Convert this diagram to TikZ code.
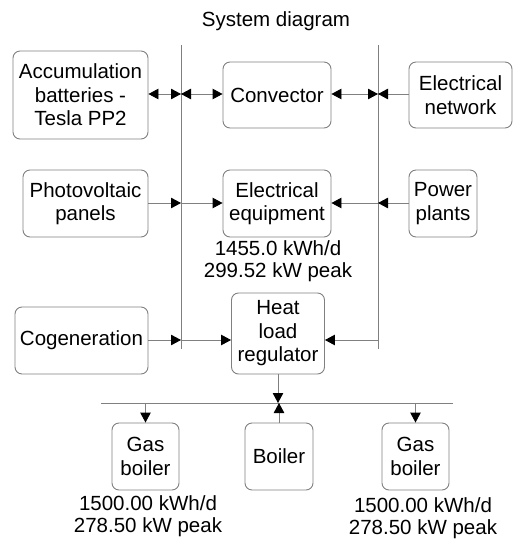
\documentclass[tikz,border=0pt]{standalone}
\usepackage{fontspec}
\setmainfont{Liberation Sans}
\usetikzlibrary{arrows.meta}
\definecolor{linegrey}{HTML}{808080}
\tikzset{
  box/.style={draw=linegrey, line width=0.9pt, rounded corners=7pt, align=center, inner sep=1pt,
    font=\fontsize{20.5}{23.5}\selectfont},
  lbl/.style={align=center, font=\fontsize{20.5}{21.5}\selectfont, inner sep=0pt},
  conn/.style={draw=linegrey, line width=0.9pt},
  tip/.style={-{Triangle[length=10pt,width=10.5pt,color=black]}},
  tips/.style={{Triangle[length=10pt,width=10.5pt,color=black]}-{Triangle[length=10pt,width=10.5pt,color=black]}},
}
\begin{document}
\begin{tikzpicture}[x=1pt,y=-1pt]
\useasboundingbox (0,0) rectangle (522,550);
\node[lbl] (title) at (276,21) {System diagram};
% buses
\coordinate (bLt) at (181,45); \coordinate (bLb) at (181,349);
\coordinate (bRt) at (378,45); \coordinate (bRb) at (378,349);
\draw[conn] (bLt) -- (bLb);
\draw[conn] (bRt) -- (bRb);
\coordinate (hbL) at (101,403); \coordinate (hbR) at (453,403);
\draw[conn] (hbL) -- (hbR);
% boxes
\node[box, minimum width=135pt, minimum height=88pt] (acc) at (80.5,95) {Accumulation\\batteries -\\Tesla PP2};
\node[box, minimum width=108pt, minimum height=66pt] (conv) at (277,95) {Convector};
\node[box, minimum width=103pt, minimum height=66pt] (enet) at (460.5,95) {Electrical\\network};
\node[box, minimum width=125pt, minimum height=67pt] (pv) at (85.5,203.5) {Photovoltaic\\panels};
\node[box, minimum width=108pt, minimum height=67pt] (ee) at (277,203.5) {Electrical\\equipment};
\node[box, minimum width=68pt, minimum height=67pt] (pp) at (443,203.5) {Power\\plants};
\node[box, minimum width=133pt, minimum height=67pt] (cog) at (81.5,340.5) {Cogeneration};
\node[box, minimum width=93pt, minimum height=81pt] (hlr) at (278,333.5) {Heat\\load\\regulator};
\node[box, minimum width=67pt, minimum height=67pt] (gb1) at (145.5,456.5) {Gas\\boiler};
\node[box, minimum width=68pt, minimum height=67pt] (boil) at (279,456.5) {Boiler};
\node[box, minimum width=67pt, minimum height=67pt] (gb2) at (415.5,456.5) {Gas\\boiler};
% labels
\node[lbl] (eelbl) at (278,261) {1455.0 kWh/d\\299.52 kW peak};
\node[lbl] (gb1lbl) at (148,516) {1500.00 kWh/d\\278.50 kW peak};
\node[lbl] (gb2lbl) at (423,518) {1500.00 kWh/d\\278.50 kW peak};
% row 1
\coordinate (l1) at (181,94); \coordinate (r1) at (378,94);
\draw[conn,tips] (acc.east |- l1) -- (l1);
\draw[conn,tips] (l1) -- (l1 -| conv.west);
\draw[conn,tips] (conv.east |- r1) -- (r1);
\draw[conn,tip] (enet.west |- r1) -- (r1);
% row 2
\coordinate (l2) at (181,203); \coordinate (r2) at (378,203);
\draw[conn,tip] (pv.east |- l2) -- (l2);
\draw[conn,tip] (l2) -- (l2 -| ee.west);
\draw[conn,tip] (pp.west |- r2) -- (r2);
\draw[conn,tip] (r2) -- (r2 -| ee.east);
% row 3
\coordinate (l3) at (181,340); \coordinate (r3) at (378,340);
\draw[conn,tip] (cog.east |- l3) -- (l3);
\draw[conn,tip] (l3) -- (l3 -| hlr.west);
\draw[conn,tip] (r3) -- (r3 -| hlr.east);
% heat bus
\draw[conn,tip] (hlr.south) -- (hlr.south |- hbL);
\draw[conn,tip] (boil.north) -- (boil.north |- hbL);
\draw[conn,tip] (gb1.north |- hbL) -- (gb1.north);
\draw[conn,tip] (gb2.north |- hbL) -- (gb2.north);
\end{tikzpicture}
\end{document}
